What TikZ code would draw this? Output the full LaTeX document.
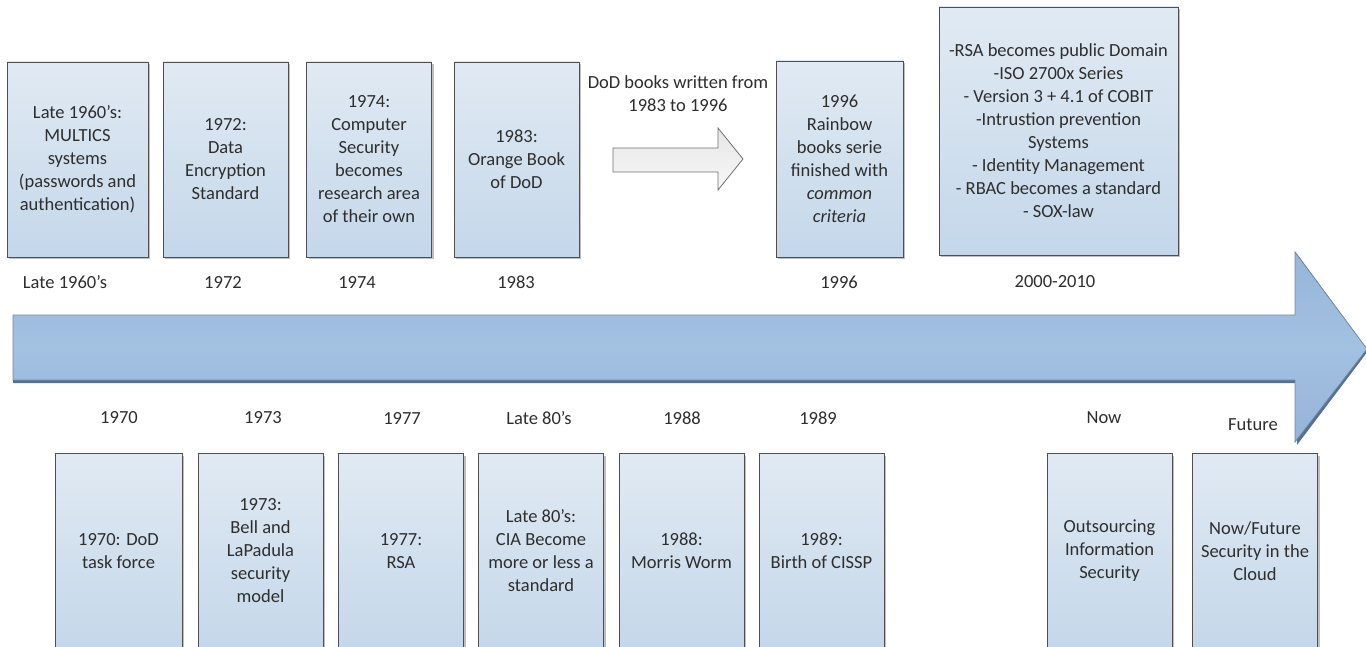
\documentclass[tikz,border=0pt]{standalone}
\usepackage{fontspec}
\setmainfont{Carlito}
\usetikzlibrary{shadows}
\definecolor{txt}{HTML}{2E2E2E}
\definecolor{boxtop}{HTML}{E1EAF3}
\definecolor{boxbot}{HTML}{C4D7EA}
\definecolor{boxline}{HTML}{4F4F4F}
\definecolor{arrtop}{HTML}{95B6DA}
\definecolor{arrmid}{HTML}{A3C1E1}
\definecolor{arrbot}{HTML}{94B4D8}
\definecolor{arrline}{HTML}{6A88AC}
\definecolor{arrshadow}{HTML}{56708E}
\definecolor{grayfill}{HTML}{E6E6E6}
\definecolor{grayline}{HTML}{707070}
\tikzset{
  evbox/.style={draw=boxline, line width=0.9pt, top color=boxtop, bottom color=boxbot,
    minimum width=125pt, minimum height=195pt, inner sep=0pt, align=center,
    text=txt, font=\fontsize{18.5}{23}\selectfont,
    drop shadow={shadow xshift=2pt, shadow yshift=-2pt, opacity=0.25, fill=black}},
  lbl/.style={inner sep=0pt, text=txt, font=\fontsize{18.5}{23}\selectfont, align=center},
}
\begin{document}
\begin{tikzpicture}[x=1pt,y=-1pt]
\path[use as bounding box, clip] (0,0) rectangle (1366,647);
\fill[white] (0,0) rectangle (1366,647);

% main timeline arrow
\fill[arrshadow] (13,318) -- (1297,318) -- (1297,254) -- (1368,351) -- (1297,445) -- (1297,383) -- (13,383) -- cycle;
\path[draw=arrline, line width=0.8pt, top color=arrtop, bottom color=arrbot, middle color=arrmid]
  (13,315) -- (1295,315) -- (1295,252) -- (1367,349) -- (1295,442) -- (1295,380) -- (13,380) -- cycle;

% gray arrow
\path[draw=grayline, line width=0.8pt, top color=grayfill, bottom color=white!94!gray]
  (613,148) -- (718,148) -- (718,128) -- (743,159) -- (718,190) -- (718,172) -- (613,172) -- cycle;
\node[lbl] (dod) at (678,94) {DoD books written from\\1983 to 1996};

% top boxes
\node[evbox, minimum width=141pt] (t1) at (77.5,159.5) {Late 1960's:\\MULTICS\\systems\\(passwords and\\authentication)};
\node[evbox] (t2) at (225.5,159.5) {1972:\\Data\\Encryption\\Standard};
\node[evbox] (t3) at (369,159.5) {1974:\\Computer\\Security\\becomes\\research area\\of their own};
\node[evbox] (t4) at (516.5,159.5) {1983:\\Orange Book\\of DoD};
\node[evbox, minimum width=127pt, minimum height=196pt] (t5) at (839.5,159) {1996\\Rainbow\\books serie\\finished with\\\textit{common}\\\textit{criteria}};
\node[evbox, minimum width=239pt, minimum height=248pt] (t6) at (1058.5,131) {-RSA becomes public Domain\\-ISO 2700x Series\\- Version 3 + 4.1 of COBIT\\-Intrustion prevention\\Systems\\- Identity Management\\- RBAC becomes a standard\\- SOX-law};

% top labels
\node[lbl] (lt1) at (65,282) {Late 1960's};
\node[lbl] (lt2) at (223,282) {1972};
\node[lbl] (lt3) at (357,282) {1974};
\node[lbl] (lt4) at (516,282) {1983};
\node[lbl] (lt5) at (839,282) {1996};
\node[lbl] (lt6) at (1055,282) {2000-2010};

% bottom labels
\node[lbl] (lb1) at (119,418) {1970};
\node[lbl] (lb2) at (263,418) {1973};
\node[lbl] (lb3) at (402,418) {1977};
\node[lbl] (lb4) at (539,418) {Late 80's};
\node[lbl] (lb5) at (682,418) {1988};
\node[lbl] (lb6) at (818,418) {1989};
\node[lbl] (lb7) at (1104,418) {Now};
\node[lbl] (lb8) at (1253,425) {Future};

% bottom boxes
\node[evbox, minimum width=127pt] (b1) at (118.5,551) {1970: DoD\\task force};
\node[evbox] (b2) at (260.5,551) {1973:\\Bell and\\LaPadula\\security\\model};
\node[evbox] (b3) at (401,551) {1977:\\RSA};
\node[evbox] (b4) at (541,551) {Late 80's:\\CIA Become\\more or less a\\standard};
\node[evbox] (b5) at (681.5,551) {1988:\\Morris Worm};
\node[evbox] (b6) at (821.5,551) {1989:\\Birth of CISSP};
\node[evbox] (b7) at (1109.5,551) {Outsourcing\\Information\\Security};
\node[evbox] (b8) at (1255,551) {Now/Future\\Security in the\\Cloud};
\end{tikzpicture}
\end{document}
